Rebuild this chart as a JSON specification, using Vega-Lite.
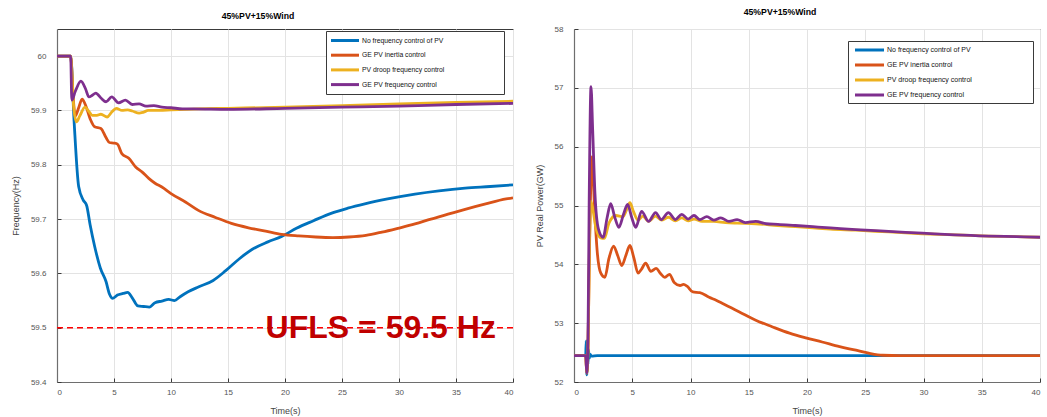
{
  "$schema": "https://vega.github.io/schema/vega-lite/v6.json",
  "background": "white",
  "padding": {"left": 10, "top": 7, "right": 0, "bottom": 0},
  "spacing": 61,
  "bounds": "flush",
  "config": {
    "font": "Liberation Sans",
    "view": {"stroke": "#3a3a3a", "strokeWidth": 1},
    "axis": {
      "grid": true, "gridColor": "#e3e3e3", "gridWidth": 1,
      "domainColor": "#6e6e6e", "domainWidth": 1.2,
      "tickColor": "#3a3a3a", "tickSize": -4,
      "labelFontSize": 8, "labelColor": "#555555", "labelFont": "Liberation Sans",
      "titleFontSize": 9, "titleFontWeight": "normal", "titleColor": "#444444", "titleFont": "Liberation Sans",
      "titlePadding": 10
    },
    "axisX": {"labelPadding": 10},
    "axisY": {"labelPadding": 15},
    "title": {"fontSize": 8.7, "fontWeight": "bold", "font": "Liberation Sans", "color": "#000000", "offset": 8, "dx": -27},
    "legend": {
      "orient": "none", "title": null,
      "symbolSize": 121, "symbolStrokeWidth": 3,
      "labelFont": "Liberation Sans", "labelColor": "#111111",
      "strokeColor": "#3a3a3a", "fillColor": "#ffffff"
    }
  },
  "datasets": {
    "freq": [
      {"series": "No frequency control of PV", "t": 0, "v": 60},
      {"series": "No frequency control of PV", "t": 1.2, "v": 60},
      {"series": "No frequency control of PV", "t": 1.5, "v": 59.88},
      {"series": "No frequency control of PV", "t": 1.9, "v": 59.76},
      {"series": "No frequency control of PV", "t": 2.3, "v": 59.735},
      {"series": "No frequency control of PV", "t": 2.6, "v": 59.725},
      {"series": "No frequency control of PV", "t": 2.9, "v": 59.69},
      {"series": "No frequency control of PV", "t": 3.3, "v": 59.65},
      {"series": "No frequency control of PV", "t": 3.8, "v": 59.61},
      {"series": "No frequency control of PV", "t": 4.3, "v": 59.585},
      {"series": "No frequency control of PV", "t": 4.6, "v": 59.562},
      {"series": "No frequency control of PV", "t": 4.9, "v": 59.554},
      {"series": "No frequency control of PV", "t": 5.3, "v": 59.56},
      {"series": "No frequency control of PV", "t": 5.8, "v": 59.563},
      {"series": "No frequency control of PV", "t": 6.2, "v": 59.565},
      {"series": "No frequency control of PV", "t": 6.6, "v": 59.555},
      {"series": "No frequency control of PV", "t": 7.1, "v": 59.54},
      {"series": "No frequency control of PV", "t": 7.6, "v": 59.539},
      {"series": "No frequency control of PV", "t": 8.1, "v": 59.538},
      {"series": "No frequency control of PV", "t": 8.6, "v": 59.546},
      {"series": "No frequency control of PV", "t": 9.2, "v": 59.549},
      {"series": "No frequency control of PV", "t": 9.8, "v": 59.552},
      {"series": "No frequency control of PV", "t": 10.3, "v": 59.55},
      {"series": "No frequency control of PV", "t": 10.8, "v": 59.557},
      {"series": "No frequency control of PV", "t": 11.5, "v": 59.566},
      {"series": "No frequency control of PV", "t": 12.4, "v": 59.575},
      {"series": "No frequency control of PV", "t": 13.7, "v": 59.587},
      {"series": "No frequency control of PV", "t": 14.8, "v": 59.605},
      {"series": "No frequency control of PV", "t": 16, "v": 59.627},
      {"series": "No frequency control of PV", "t": 17.1, "v": 59.644},
      {"series": "No frequency control of PV", "t": 18.5, "v": 59.658},
      {"series": "No frequency control of PV", "t": 19.7, "v": 59.668},
      {"series": "No frequency control of PV", "t": 21, "v": 59.683},
      {"series": "No frequency control of PV", "t": 22.5, "v": 59.697},
      {"series": "No frequency control of PV", "t": 24.1, "v": 59.711},
      {"series": "No frequency control of PV", "t": 25.5, "v": 59.72},
      {"series": "No frequency control of PV", "t": 27, "v": 59.728},
      {"series": "No frequency control of PV", "t": 29, "v": 59.737},
      {"series": "No frequency control of PV", "t": 31.4, "v": 59.746},
      {"series": "No frequency control of PV", "t": 33.5, "v": 59.752},
      {"series": "No frequency control of PV", "t": 35.8, "v": 59.757},
      {"series": "No frequency control of PV", "t": 38, "v": 59.76},
      {"series": "No frequency control of PV", "t": 40, "v": 59.763},

      {"series": "GE PV inertia control", "t": 0, "v": 60},
      {"series": "GE PV inertia control", "t": 1.2, "v": 60},
      {"series": "GE PV inertia control", "t": 1.4, "v": 59.93},
      {"series": "GE PV inertia control", "t": 1.6, "v": 59.89},
      {"series": "GE PV inertia control", "t": 1.9, "v": 59.905},
      {"series": "GE PV inertia control", "t": 2.2, "v": 59.921},
      {"series": "GE PV inertia control", "t": 2.5, "v": 59.91},
      {"series": "GE PV inertia control", "t": 2.9, "v": 59.885},
      {"series": "GE PV inertia control", "t": 3.3, "v": 59.87},
      {"series": "GE PV inertia control", "t": 3.85, "v": 59.867},
      {"series": "GE PV inertia control", "t": 4.3, "v": 59.85},
      {"series": "GE PV inertia control", "t": 4.6, "v": 59.841},
      {"series": "GE PV inertia control", "t": 5.0, "v": 59.84},
      {"series": "GE PV inertia control", "t": 5.3, "v": 59.838},
      {"series": "GE PV inertia control", "t": 5.7, "v": 59.82},
      {"series": "GE PV inertia control", "t": 6.3, "v": 59.812},
      {"series": "GE PV inertia control", "t": 6.9, "v": 59.796},
      {"series": "GE PV inertia control", "t": 7.45, "v": 59.787},
      {"series": "GE PV inertia control", "t": 8.05, "v": 59.775},
      {"series": "GE PV inertia control", "t": 8.6, "v": 59.766},
      {"series": "GE PV inertia control", "t": 9.2, "v": 59.759},
      {"series": "GE PV inertia control", "t": 10, "v": 59.747},
      {"series": "GE PV inertia control", "t": 11.3, "v": 59.731},
      {"series": "GE PV inertia control", "t": 12.4, "v": 59.716},
      {"series": "GE PV inertia control", "t": 13.9, "v": 59.703},
      {"series": "GE PV inertia control", "t": 15.3, "v": 59.692},
      {"series": "GE PV inertia control", "t": 16.8, "v": 59.684},
      {"series": "GE PV inertia control", "t": 18.3, "v": 59.678},
      {"series": "GE PV inertia control", "t": 19.7, "v": 59.672},
      {"series": "GE PV inertia control", "t": 21.2, "v": 59.669},
      {"series": "GE PV inertia control", "t": 22.7, "v": 59.667},
      {"series": "GE PV inertia control", "t": 24.2, "v": 59.666},
      {"series": "GE PV inertia control", "t": 25.6, "v": 59.667},
      {"series": "GE PV inertia control", "t": 27.1, "v": 59.67},
      {"series": "GE PV inertia control", "t": 28.5, "v": 59.676},
      {"series": "GE PV inertia control", "t": 29.9, "v": 59.683},
      {"series": "GE PV inertia control", "t": 31.4, "v": 59.691},
      {"series": "GE PV inertia control", "t": 32.8, "v": 59.7},
      {"series": "GE PV inertia control", "t": 34.3, "v": 59.709},
      {"series": "GE PV inertia control", "t": 35.8, "v": 59.718},
      {"series": "GE PV inertia control", "t": 37.6, "v": 59.728},
      {"series": "GE PV inertia control", "t": 39.4, "v": 59.737},
      {"series": "GE PV inertia control", "t": 40, "v": 59.739},

      {"series": "PV droop frequency control", "t": 0, "v": 60},
      {"series": "PV droop frequency control", "t": 1.2, "v": 60},
      {"series": "PV droop frequency control", "t": 1.45, "v": 59.91},
      {"series": "PV droop frequency control", "t": 1.7, "v": 59.879},
      {"series": "PV droop frequency control", "t": 2.0, "v": 59.89},
      {"series": "PV droop frequency control", "t": 2.45, "v": 59.906},
      {"series": "PV droop frequency control", "t": 2.8, "v": 59.898},
      {"series": "PV droop frequency control", "t": 3.1, "v": 59.891},
      {"series": "PV droop frequency control", "t": 3.5, "v": 59.891},
      {"series": "PV droop frequency control", "t": 3.85, "v": 59.893},
      {"series": "PV droop frequency control", "t": 4.4, "v": 59.888},
      {"series": "PV droop frequency control", "t": 4.8, "v": 59.897},
      {"series": "PV droop frequency control", "t": 5.2, "v": 59.904},
      {"series": "PV droop frequency control", "t": 5.7, "v": 59.9},
      {"series": "PV droop frequency control", "t": 6.2, "v": 59.901},
      {"series": "PV droop frequency control", "t": 6.6, "v": 59.899},
      {"series": "PV droop frequency control", "t": 7.2, "v": 59.895},
      {"series": "PV droop frequency control", "t": 7.6, "v": 59.897},
      {"series": "PV droop frequency control", "t": 8, "v": 59.9},
      {"series": "PV droop frequency control", "t": 9, "v": 59.9},
      {"series": "PV droop frequency control", "t": 10, "v": 59.901},
      {"series": "PV droop frequency control", "t": 12.4, "v": 59.903},
      {"series": "PV droop frequency control", "t": 15, "v": 59.904},
      {"series": "PV droop frequency control", "t": 20, "v": 59.906},
      {"series": "PV droop frequency control", "t": 25, "v": 59.909},
      {"series": "PV droop frequency control", "t": 30, "v": 59.912},
      {"series": "PV droop frequency control", "t": 35, "v": 59.915},
      {"series": "PV droop frequency control", "t": 40, "v": 59.917},

      {"series": "GE PV frequency control", "t": 0, "v": 60},
      {"series": "GE PV frequency control", "t": 1.2, "v": 60},
      {"series": "GE PV frequency control", "t": 1.3, "v": 59.919},
      {"series": "GE PV frequency control", "t": 1.6, "v": 59.935},
      {"series": "GE PV frequency control", "t": 2.1, "v": 59.954},
      {"series": "GE PV frequency control", "t": 2.5, "v": 59.94},
      {"series": "GE PV frequency control", "t": 2.8, "v": 59.925},
      {"series": "GE PV frequency control", "t": 3.1, "v": 59.928},
      {"series": "GE PV frequency control", "t": 3.4, "v": 59.932},
      {"series": "GE PV frequency control", "t": 3.9, "v": 59.922},
      {"series": "GE PV frequency control", "t": 4.3, "v": 59.916},
      {"series": "GE PV frequency control", "t": 4.8, "v": 59.925},
      {"series": "GE PV frequency control", "t": 5.4, "v": 59.914},
      {"series": "GE PV frequency control", "t": 6.0, "v": 59.919},
      {"series": "GE PV frequency control", "t": 6.6, "v": 59.911},
      {"series": "GE PV frequency control", "t": 7.2, "v": 59.912},
      {"series": "GE PV frequency control", "t": 7.8, "v": 59.908},
      {"series": "GE PV frequency control", "t": 8.5, "v": 59.909},
      {"series": "GE PV frequency control", "t": 9.2, "v": 59.906},
      {"series": "GE PV frequency control", "t": 10, "v": 59.905},
      {"series": "GE PV frequency control", "t": 11, "v": 59.903},
      {"series": "GE PV frequency control", "t": 12, "v": 59.903},
      {"series": "GE PV frequency control", "t": 15, "v": 59.902},
      {"series": "GE PV frequency control", "t": 20, "v": 59.904},
      {"series": "GE PV frequency control", "t": 25, "v": 59.906},
      {"series": "GE PV frequency control", "t": 30, "v": 59.908},
      {"series": "GE PV frequency control", "t": 35, "v": 59.911},
      {"series": "GE PV frequency control", "t": 40, "v": 59.913}
    ],
    "power": [
      {"series": "No frequency control of PV", "t": 0, "v": 52.45},
      {"series": "No frequency control of PV", "t": 1.0, "v": 52.45},
      {"series": "No frequency control of PV", "t": 1.05, "v": 52.7},
      {"series": "No frequency control of PV", "t": 1.1, "v": 52.12},
      {"series": "No frequency control of PV", "t": 1.15, "v": 52.65},
      {"series": "No frequency control of PV", "t": 1.2, "v": 52.3},
      {"series": "No frequency control of PV", "t": 1.25, "v": 52.55},
      {"series": "No frequency control of PV", "t": 1.3, "v": 52.4},
      {"series": "No frequency control of PV", "t": 1.4, "v": 52.47},
      {"series": "No frequency control of PV", "t": 1.5, "v": 52.44},
      {"series": "No frequency control of PV", "t": 2, "v": 52.45},
      {"series": "No frequency control of PV", "t": 40, "v": 52.45},

      {"series": "GE PV inertia control", "t": 0, "v": 52.45},
      {"series": "GE PV inertia control", "t": 1.0, "v": 52.45},
      {"series": "GE PV inertia control", "t": 1.1, "v": 52.15},
      {"series": "GE PV inertia control", "t": 1.2, "v": 52.6},
      {"series": "GE PV inertia control", "t": 1.35, "v": 54.5},
      {"series": "GE PV inertia control", "t": 1.55, "v": 55.83},
      {"series": "GE PV inertia control", "t": 1.75, "v": 55.0},
      {"series": "GE PV inertia control", "t": 2.0, "v": 54.2},
      {"series": "GE PV inertia control", "t": 2.3, "v": 53.85},
      {"series": "GE PV inertia control", "t": 2.65, "v": 53.78},
      {"series": "GE PV inertia control", "t": 3.0, "v": 54.1},
      {"series": "GE PV inertia control", "t": 3.4, "v": 54.31},
      {"series": "GE PV inertia control", "t": 3.75, "v": 54.15},
      {"series": "GE PV inertia control", "t": 4.1, "v": 53.98},
      {"series": "GE PV inertia control", "t": 4.45, "v": 54.15},
      {"series": "GE PV inertia control", "t": 4.8, "v": 54.32},
      {"series": "GE PV inertia control", "t": 5.15, "v": 54.1},
      {"series": "GE PV inertia control", "t": 5.5, "v": 53.85},
      {"series": "GE PV inertia control", "t": 5.8, "v": 53.92},
      {"series": "GE PV inertia control", "t": 6.15, "v": 54.02},
      {"series": "GE PV inertia control", "t": 6.6, "v": 53.88},
      {"series": "GE PV inertia control", "t": 7.05, "v": 53.93},
      {"series": "GE PV inertia control", "t": 7.4, "v": 53.85},
      {"series": "GE PV inertia control", "t": 7.8, "v": 53.78},
      {"series": "GE PV inertia control", "t": 8.2, "v": 53.83},
      {"series": "GE PV inertia control", "t": 8.6, "v": 53.69},
      {"series": "GE PV inertia control", "t": 9.1, "v": 53.64},
      {"series": "GE PV inertia control", "t": 9.4, "v": 53.66},
      {"series": "GE PV inertia control", "t": 9.7, "v": 53.63},
      {"series": "GE PV inertia control", "t": 10.2, "v": 53.53},
      {"series": "GE PV inertia control", "t": 10.8, "v": 53.52},
      {"series": "GE PV inertia control", "t": 11.6, "v": 53.44},
      {"series": "GE PV inertia control", "t": 12.2, "v": 53.39},
      {"series": "GE PV inertia control", "t": 12.8, "v": 53.33},
      {"series": "GE PV inertia control", "t": 13.5, "v": 53.26},
      {"series": "GE PV inertia control", "t": 14.2, "v": 53.19},
      {"series": "GE PV inertia control", "t": 15.6, "v": 53.05},
      {"series": "GE PV inertia control", "t": 17, "v": 52.94},
      {"series": "GE PV inertia control", "t": 18.5, "v": 52.83},
      {"series": "GE PV inertia control", "t": 19.9, "v": 52.75},
      {"series": "GE PV inertia control", "t": 21.3, "v": 52.68},
      {"series": "GE PV inertia control", "t": 22.8, "v": 52.6},
      {"series": "GE PV inertia control", "t": 24.2, "v": 52.54},
      {"series": "GE PV inertia control", "t": 25.3, "v": 52.49},
      {"series": "GE PV inertia control", "t": 26.5, "v": 52.455},
      {"series": "GE PV inertia control", "t": 28, "v": 52.45},
      {"series": "GE PV inertia control", "t": 40, "v": 52.45},

      {"series": "PV droop frequency control", "t": 0, "v": 52.45},
      {"series": "PV droop frequency control", "t": 1.0, "v": 52.45},
      {"series": "PV droop frequency control", "t": 1.1, "v": 52.15},
      {"series": "PV droop frequency control", "t": 1.2, "v": 52.5},
      {"series": "PV droop frequency control", "t": 1.3, "v": 54.0},
      {"series": "PV droop frequency control", "t": 1.46, "v": 55.07},
      {"series": "PV droop frequency control", "t": 1.65, "v": 54.9},
      {"series": "PV droop frequency control", "t": 1.9, "v": 54.6},
      {"series": "PV droop frequency control", "t": 2.3, "v": 54.45},
      {"series": "PV droop frequency control", "t": 2.6, "v": 54.44},
      {"series": "PV droop frequency control", "t": 3.0, "v": 54.7},
      {"series": "PV droop frequency control", "t": 3.6, "v": 54.83},
      {"series": "PV droop frequency control", "t": 4.2, "v": 54.81},
      {"series": "PV droop frequency control", "t": 4.5, "v": 54.92},
      {"series": "PV droop frequency control", "t": 4.8, "v": 55.05},
      {"series": "PV droop frequency control", "t": 5.1, "v": 54.9},
      {"series": "PV droop frequency control", "t": 5.5, "v": 54.75},
      {"series": "PV droop frequency control", "t": 5.9, "v": 54.82},
      {"series": "PV droop frequency control", "t": 6.4, "v": 54.73},
      {"series": "PV droop frequency control", "t": 7.0, "v": 54.82},
      {"series": "PV droop frequency control", "t": 7.5, "v": 54.75},
      {"series": "PV droop frequency control", "t": 8.1, "v": 54.8},
      {"series": "PV droop frequency control", "t": 8.7, "v": 54.74},
      {"series": "PV droop frequency control", "t": 9.25, "v": 54.79},
      {"series": "PV droop frequency control", "t": 9.8, "v": 54.74},
      {"series": "PV droop frequency control", "t": 10.3, "v": 54.77},
      {"series": "PV droop frequency control", "t": 11, "v": 54.73},
      {"series": "PV droop frequency control", "t": 12, "v": 54.73},
      {"series": "PV droop frequency control", "t": 13, "v": 54.71},
      {"series": "PV droop frequency control", "t": 14, "v": 54.7},
      {"series": "PV droop frequency control", "t": 15.6, "v": 54.69},
      {"series": "PV droop frequency control", "t": 17.5, "v": 54.66},
      {"series": "PV droop frequency control", "t": 19, "v": 54.64},
      {"series": "PV droop frequency control", "t": 20.5, "v": 54.62},
      {"series": "PV droop frequency control", "t": 22, "v": 54.6},
      {"series": "PV droop frequency control", "t": 24.2, "v": 54.58},
      {"series": "PV droop frequency control", "t": 27, "v": 54.55},
      {"series": "PV droop frequency control", "t": 29.9, "v": 54.52},
      {"series": "PV droop frequency control", "t": 32.7, "v": 54.5},
      {"series": "PV droop frequency control", "t": 35.6, "v": 54.48},
      {"series": "PV droop frequency control", "t": 38, "v": 54.47},
      {"series": "PV droop frequency control", "t": 40, "v": 54.46},

      {"series": "GE PV frequency control", "t": 0, "v": 52.45},
      {"series": "GE PV frequency control", "t": 1.0, "v": 52.45},
      {"series": "GE PV frequency control", "t": 1.1, "v": 52.15},
      {"series": "GE PV frequency control", "t": 1.2, "v": 52.7},
      {"series": "GE PV frequency control", "t": 1.3, "v": 55.0},
      {"series": "GE PV frequency control", "t": 1.46, "v": 57.02},
      {"series": "GE PV frequency control", "t": 1.6, "v": 56.3},
      {"series": "GE PV frequency control", "t": 1.8, "v": 55.2},
      {"series": "GE PV frequency control", "t": 2.1, "v": 54.6},
      {"series": "GE PV frequency control", "t": 2.5, "v": 54.46},
      {"series": "GE PV frequency control", "t": 2.85, "v": 54.8},
      {"series": "GE PV frequency control", "t": 3.15, "v": 55.03},
      {"series": "GE PV frequency control", "t": 3.5, "v": 54.8},
      {"series": "GE PV frequency control", "t": 3.85, "v": 54.63},
      {"series": "GE PV frequency control", "t": 4.25, "v": 54.85},
      {"series": "GE PV frequency control", "t": 4.6, "v": 55.02},
      {"series": "GE PV frequency control", "t": 4.95, "v": 54.8},
      {"series": "GE PV frequency control", "t": 5.3, "v": 54.63},
      {"series": "GE PV frequency control", "t": 5.8, "v": 54.9},
      {"series": "GE PV frequency control", "t": 6.4, "v": 54.73},
      {"series": "GE PV frequency control", "t": 7.0, "v": 54.88},
      {"series": "GE PV frequency control", "t": 7.5, "v": 54.76},
      {"series": "GE PV frequency control", "t": 8.1, "v": 54.88},
      {"series": "GE PV frequency control", "t": 8.7, "v": 54.76},
      {"series": "GE PV frequency control", "t": 9.25, "v": 54.85},
      {"series": "GE PV frequency control", "t": 9.8, "v": 54.77},
      {"series": "GE PV frequency control", "t": 10.3, "v": 54.83},
      {"series": "GE PV frequency control", "t": 10.8, "v": 54.76},
      {"series": "GE PV frequency control", "t": 11.4, "v": 54.81},
      {"series": "GE PV frequency control", "t": 12, "v": 54.75},
      {"series": "GE PV frequency control", "t": 12.6, "v": 54.79},
      {"series": "GE PV frequency control", "t": 13.3, "v": 54.73},
      {"series": "GE PV frequency control", "t": 14, "v": 54.76},
      {"series": "GE PV frequency control", "t": 14.7, "v": 54.71},
      {"series": "GE PV frequency control", "t": 15.6, "v": 54.73},
      {"series": "GE PV frequency control", "t": 16.5, "v": 54.69},
      {"series": "GE PV frequency control", "t": 17.5, "v": 54.68},
      {"series": "GE PV frequency control", "t": 19, "v": 54.66},
      {"series": "GE PV frequency control", "t": 20.5, "v": 54.64},
      {"series": "GE PV frequency control", "t": 22, "v": 54.62},
      {"series": "GE PV frequency control", "t": 24.2, "v": 54.59},
      {"series": "GE PV frequency control", "t": 27, "v": 54.56},
      {"series": "GE PV frequency control", "t": 29.9, "v": 54.53},
      {"series": "GE PV frequency control", "t": 32.7, "v": 54.5},
      {"series": "GE PV frequency control", "t": 35.6, "v": 54.48},
      {"series": "GE PV frequency control", "t": 38, "v": 54.47},
      {"series": "GE PV frequency control", "t": 40, "v": 54.46}
    ]
  },
  "hconcat": [
    {
      "title": "45%PV+15%Wind",
      "width": 456,
      "height": 353,
      "layer": [
        {
          "data": {"name": "freq"},
          "mark": {"type": "line", "strokeWidth": 2.8, "clip": true, "interpolate": "monotone"},
          "encoding": {
            "x": {"field": "t", "type": "quantitative", "scale": {"domain": [0, 40], "nice": false},
                  "axis": {"title": "Time(s)", "values": [0, 5, 10, 15, 20, 25, 30, 35, 40]}},
            "y": {"field": "v", "type": "quantitative", "scale": {"domain": [59.4, 60.05], "nice": false, "zero": false},
                  "axis": {"title": "Frequency(Hz)", "values": [59.4, 59.5, 59.6, 59.7, 59.8, 59.9, 60],
                           "labelExpr": "toString(round(datum.value*10)/10)"}},
            "color": {"field": "series", "type": "nominal",
                      "scale": {"domain": ["No frequency control of PV", "GE PV inertia control", "PV droop frequency control", "GE PV frequency control"],
                                "range": ["#0072BD", "#D95319", "#EDB120", "#7E2F8E"]},
                      "legend": {"legendX": 269, "legendY": 2, "labelFontSize": 6.8, "labelOffset": 19.5, "rowPadding": 1.7, "padding": 2.5,
                                 "symbolType": "M-0.818,0H4.27",
                                 "labelExpr": "datum.label + '\u00a0\u00a0\u00a0\u00a0\u00a0\u00a0\u00a0\u00a0\u00a0\u00a0\u00a0\u00a0\u00a0\u00a0\u00a0\u00a0\u00a0\u00a0\u00a0\u00a0\u00a0\u00a0\u00a0\u00a0\u00a0\u00a0\u00a0\u00a0\u00a0\u00a0\u200b'"}}
          }
        },
        {
          "data": {"values": [{"level": 59.5}]},
          "mark": {"type": "rule", "color": "#ff0000", "strokeDash": [6, 4], "strokeWidth": 1.5},
          "encoding": {"y": {"field": "level", "type": "quantitative"}}
        },
        {
          "data": {"values": [{"t": 28.4, "level": 59.5, "label": "UFLS = 59.5 Hz"}]},
          "mark": {"type": "text", "color": "#c00000", "fontSize": 32, "fontWeight": "bold", "font": "Liberation Sans", "align": "center", "baseline": "middle"},
          "encoding": {
            "x": {"field": "t", "type": "quantitative"},
            "y": {"field": "level", "type": "quantitative"},
            "text": {"field": "label"}
          }
        }
      ]
    },
    {
      "title": "45%PV+15%Wind",
      "width": 466,
      "height": 353,
      "data": {"name": "power"},
      "mark": {"type": "line", "strokeWidth": 2.8, "clip": true, "interpolate": "monotone"},
      "encoding": {
        "x": {"field": "t", "type": "quantitative", "scale": {"domain": [0, 40], "nice": false},
              "axis": {"title": "Time(s)", "values": [0, 5, 10, 15, 20, 25, 30, 35, 40]}},
        "y": {"field": "v", "type": "quantitative", "scale": {"domain": [52, 58], "nice": false, "zero": false},
              "axis": {"title": "PV Real Power(GW)", "values": [52, 53, 54, 55, 56, 57, 58]}},
        "color": {"field": "series", "type": "nominal",
                  "scale": {"domain": ["No frequency control of PV", "GE PV inertia control", "PV droop frequency control", "GE PV frequency control"],
                            "range": ["#0072BD", "#D95319", "#EDB120", "#7E2F8E"]},
                  "legend": {"legendX": 274, "legendY": 12, "labelFontSize": 7, "labelOffset": 23, "rowPadding": 2, "padding": 2,
                             "symbolType": "M-0.364,0H4.91",
                             "labelExpr": "datum.label + '\u00a0\u00a0\u00a0\u00a0\u00a0\u00a0\u00a0\u00a0\u00a0\u00a0\u00a0\u00a0\u00a0\u00a0\u00a0\u00a0\u00a0\u00a0\u00a0\u00a0\u00a0\u00a0\u00a0\u00a0\u00a0\u00a0\u00a0\u00a0\u00a0\u00a0\u200b'"}}
      }
    }
  ],
  "resolve": {"scale": {"color": "independent"}, "legend": {"color": "independent"}}
}
